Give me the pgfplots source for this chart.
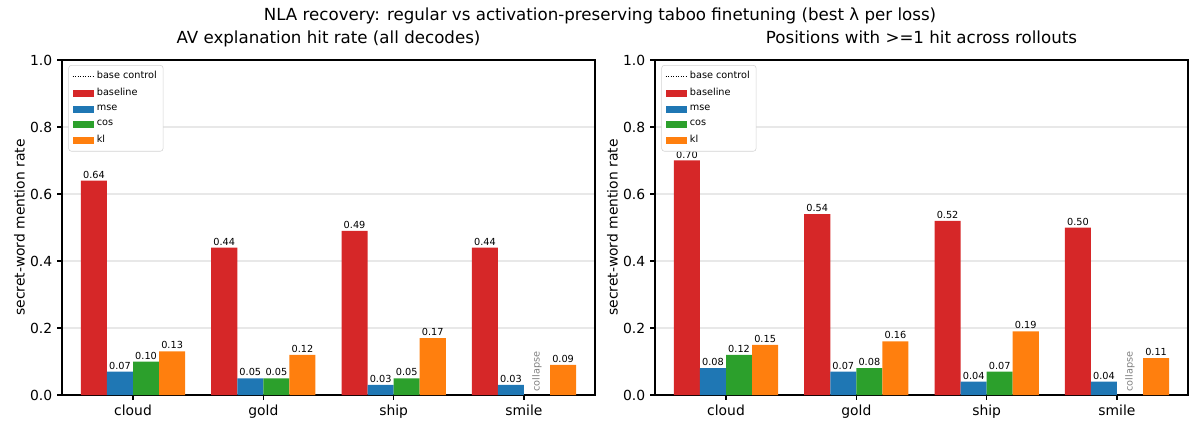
\documentclass[border=0pt]{standalone}
\usepackage{fontspec}
\setmainfont{DejaVu Sans}
\usepackage{pgfplots}
\usepackage{pgfplotstable}
\pgfplotsset{compat=1.18}

\definecolor{cbase}{HTML}{D62728}
\definecolor{cmse}{HTML}{1F77B4}
\definecolor{ccos}{HTML}{2CA02C}
\definecolor{ckl}{HTML}{FF7F0E}

% hit rate over all decodes
\pgfplotstableread{
x baseline mse cos kl
0 0.64 0.07 0.10 0.13
1 0.44 0.05 0.05 0.12
2 0.49 0.03 0.05 0.17
3 0.44 0.03 nan 0.09
}\hitrate

% positions with at least one hit across rollouts
\pgfplotstableread{
x baseline mse cos kl
0 0.70 0.08 0.12 0.15
1 0.54 0.07 0.08 0.16
2 0.52 0.04 0.07 0.19
3 0.50 0.04 nan 0.11
}\positions

\pgfplotsset{
  panel/.style={
    scale only axis, width=383.76pt, height=241.2pt,
    xmin=-0.545, xmax=3.545, ymin=0, ymax=1,
    xtick={0,1,2,3}, xticklabels={cloud,gold,ship,smile},
    ytick={0,0.2,0.4,0.6,0.8,1.0},
    yticklabel style={/pgf/number format/.cd, fixed, fixed zerofill, precision=1},
    /pgf/number format/assume math mode=true,
    tick label style={font=\fontsize{10}{12}\selectfont},
    label style={font=\fontsize{10}{12}\selectfont},
    ylabel={secret-word mention rate},
    ylabel style={yshift=-3pt},
    tick align=outside, tick pos=left,
    major tick length=3.5pt,
    axis line style={line width=0.8pt},
    every tick/.style={black, line width=0.8pt},
    ymajorgrids, grid style={gray!18, line width=0.8pt},
    title style={font=\fontsize{12}{14}\selectfont, at={(0.5,1)}, anchor=base, yshift=6pt},
    legend style={at={(0.012,0.985)}, anchor=north west,
      font=\fontsize{7}{8.5}\selectfont, draw=gray!35, rounded corners=2pt,
      row sep=1.4pt, inner sep=2.5pt, cells={anchor=west}},
    legend cell align=left,
  },
  bars/.style={ybar, bar width=0.2, bar shift=0pt, draw=none, fill=#1,
    nodes near coords,
    nodes near coords style={font=\fontsize{7}{8}\selectfont, text=black, anchor=south, inner sep=1.5pt,
      /pgf/number format/.cd, fixed, fixed zerofill, precision=2, assume math mode=true},
    legend image code/.code={\fill[fill=#1, sharp corners] (0pt,-2.6pt) rectangle (15pt,2.6pt);}},
  basectl/.style={black, densely dotted, line width=0.8pt, unbounded coords=jump,
    legend image code/.code={\draw[black, densely dotted, line width=0.8pt, sharp corners] (0pt,0pt) -- (15pt,0pt);}},
}

\begin{document}
\begin{tikzpicture}
\path (0,0) rectangle (864pt,308.16pt);
\node[font=\fontsize{12}{14}\selectfont, anchor=base] at (432pt,293.5pt)
  {NLA recovery: regular vs activation-preserving taboo finetuning (best λ per loss)};

\begin{axis}[panel, at={(44.64pt,23.76pt)}, anchor=south west,
  title={AV explanation hit rate (all decodes)}]
\addplot[basectl] coordinates {(-0.4,0) (0.4,0) (0.5,nan) (0.6,0) (1.4,0) (1.5,nan) (1.6,0) (2.4,0) (2.5,nan) (2.6,0) (3.4,0)};
\addlegendentry{base control}
\addplot[bars=cbase] table[x expr=\thisrow{x}-0.3, y=baseline] {\hitrate};
\addlegendentry{baseline}
\addplot[bars=cmse] table[x expr=\thisrow{x}-0.1, y=mse] {\hitrate};
\addlegendentry{mse}
\addplot[bars=ccos] table[x expr=\thisrow{x}+0.1, y=cos] {\hitrate};
\addlegendentry{cos}
\addplot[bars=ckl] table[x expr=\thisrow{x}+0.3, y=kl] {\hitrate};
\addlegendentry{kl}
\node[rotate=90, anchor=west, font=\fontsize{7}{8}\selectfont, text=gray, inner sep=1pt] at (axis cs:3.1,0.005) {collapse};
\end{axis}

\begin{axis}[panel, at={(471.6pt,23.76pt)}, anchor=south west,
  title={Positions with >=1 hit across rollouts}]
\addplot[basectl] coordinates {(-0.4,0) (0.4,0) (0.5,nan) (0.6,0) (1.4,0) (1.5,nan) (1.6,0) (2.4,0) (2.5,nan) (2.6,0) (3.4,0)};
\addlegendentry{base control}
\addplot[bars=cbase] table[x expr=\thisrow{x}-0.3, y=baseline] {\positions};
\addlegendentry{baseline}
\addplot[bars=cmse] table[x expr=\thisrow{x}-0.1, y=mse] {\positions};
\addlegendentry{mse}
\addplot[bars=ccos] table[x expr=\thisrow{x}+0.1, y=cos] {\positions};
\addlegendentry{cos}
\addplot[bars=ckl] table[x expr=\thisrow{x}+0.3, y=kl] {\positions};
\addlegendentry{kl}
\node[rotate=90, anchor=west, font=\fontsize{7}{8}\selectfont, text=gray, inner sep=1pt] at (axis cs:3.1,0.005) {collapse};
\end{axis}
\end{tikzpicture}
\end{document}
